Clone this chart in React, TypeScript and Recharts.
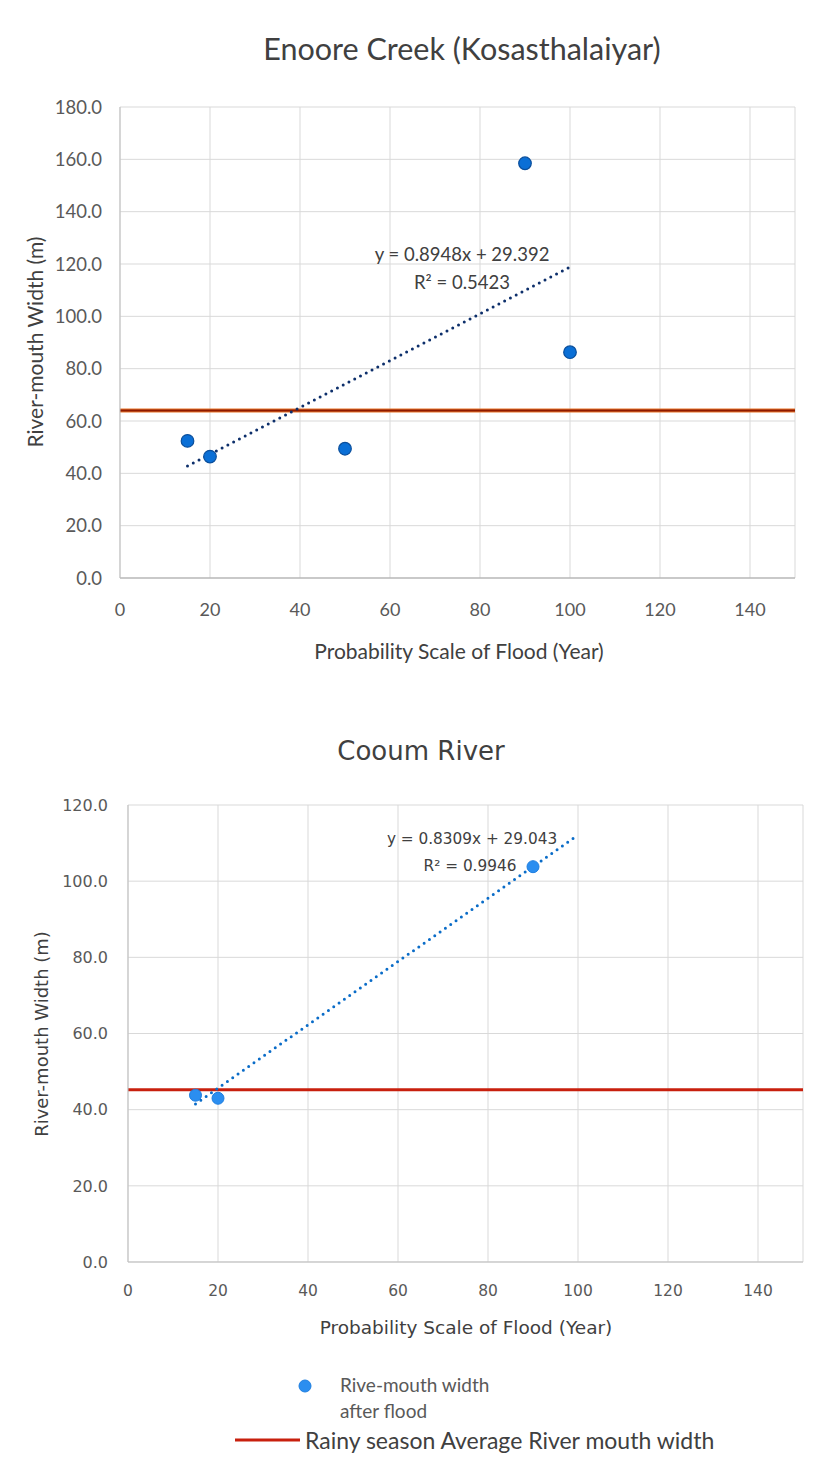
import React from "react";
import { CartesianGrid, ComposedChart, ReferenceLine, Scatter, XAxis, YAxis } from "recharts";

const X_TICKS = [0, 20, 40, 60, 80, 100, 120, 140];

// Enoore Creek (Kosasthalaiyar)
const enooreYears = [15, 20, 50, 90, 100];
const enooreWidths = [52.4, 46.4, 49.4, 158.5, 86.3];
const enooreRainyAvg = 64;
const enooreFit = { slope: 0.8948, intercept: 29.392, from: 15, to: 100 };
const enooreYTicks = [0, 20, 40, 60, 80, 100, 120, 140, 160, 180];

// Cooum River
const cooumYears = [15, 20, 90];
const cooumWidths = [43.8, 43.0, 103.8];
const cooumRainyAvg = 45.2;
const cooumFit = { slope: 0.8309, intercept: 29.043, from: 15, to: 100 };
const cooumYTicks = [0, 20, 40, 60, 80, 100, 120];

const W = 823;
const H = 1463;

type Fit = { slope: number; intercept: number; from: number; to: number };

const toPoints = (xs: number[], ys: number[]) => xs.map((x, i) => ({ x, y: ys[i] }));
const fitLine = (f: Fit) => [f.from, f.to].map((x) => ({ x, y: f.slope * x + f.intercept }));

function Caption({
  x,
  y,
  children,
  size,
  font,
  color = "#404040",
  rotate = false,
}: {
  x: number;
  y: number;
  children: React.ReactNode;
  size: number;
  font: string;
  color?: string;
  rotate?: boolean;
}) {
  return (
    <div
      style={{
        position: "absolute",
        left: x,
        top: y,
        transform: `translate(-50%, -50%)${rotate ? " rotate(-90deg)" : ""}`,
        fontFamily: font,
        fontSize: size,
        color,
        whiteSpace: "nowrap",
        lineHeight: 1.15,
        textAlign: "center",
      }}
    >
      {children}
    </div>
  );
}

const LATO = "Lato, sans-serif";
const DEJAVU = "'DejaVu Sans', sans-serif";

export default function App() {
  const enooreData = toPoints(enooreYears, enooreWidths);
  const cooumData = toPoints(cooumYears, cooumWidths);

  return (
    <div style={{ position: "absolute", left: 0, top: 0, width: W, height: H, background: "#fff", overflow: "hidden" }}>
      {/* top chart */}
      <div style={{ position: "absolute", left: 0, top: 0 }}>
        <ComposedChart width={W} height={700} margin={{ top: 107, right: 28, bottom: 0, left: 0 }}>
          <CartesianGrid stroke="#d9d9d9" />
          <XAxis
            type="number"
            dataKey="x"
            domain={[0, 150]}
            ticks={X_TICKS}
            height={122}
            tickSize={0}
            tickMargin={25}
            axisLine={{ stroke: "#a6a6a6" }}
            tick={{ fill: "#595959", fontSize: 18, fontFamily: LATO }}
            allowDataOverflow
          />
          <YAxis
            type="number"
            dataKey="y"
            domain={[0, 180]}
            ticks={enooreYTicks}
            width={120}
            tickSize={0}
            tickMargin={18}
            axisLine={{ stroke: "#bfbfbf" }}
            tick={{ fill: "#595959", fontSize: 18.5, fontFamily: LATO }}
            tickFormatter={(v: number) => v.toFixed(1)}
          />
          <ReferenceLine y={enooreRainyAvg} stroke="#e8742a" strokeWidth={4} />
          <ReferenceLine y={enooreRainyAvg} stroke="#8e1a00" strokeWidth={2} />
          <Scatter
            data={fitLine(enooreFit)}
            line={{ stroke: "#0d2f6b", strokeWidth: 3, strokeDasharray: "0 6.5", strokeLinecap: "round" }}
            shape={() => <g />}
            isAnimationActive={false}
          />
          <Scatter
            data={enooreData}
            shape={(p: any) => <circle cx={p.cx} cy={p.cy} r={6.3} fill="#0a6fd6" stroke="#0b4f9c" strokeWidth={1.2} />}
            isAnimationActive={false}
          />
        </ComposedChart>
      </div>

      {/* bottom chart */}
      <div style={{ position: "absolute", left: 0, top: 700 }}>
        <ComposedChart width={W} height={640} margin={{ top: 105, right: 20, bottom: 0, left: 0 }}>
          <CartesianGrid stroke="#d9d9d9" />
          <XAxis
            type="number"
            dataKey="x"
            domain={[0, 150]}
            ticks={X_TICKS}
            height={78}
            tickSize={0}
            tickMargin={23}
            axisLine={{ stroke: "#bfbfbf" }}
            tick={{ fill: "#595959", fontSize: 15.5, fontFamily: DEJAVU }}
            allowDataOverflow
          />
          <YAxis
            type="number"
            dataKey="y"
            domain={[0, 120]}
            ticks={cooumYTicks}
            width={128}
            tickSize={0}
            tickMargin={20}
            axisLine={{ stroke: "#bfbfbf" }}
            tick={{ fill: "#595959", fontSize: 16, fontFamily: DEJAVU }}
            tickFormatter={(v: number) => v.toFixed(1)}
          />
          <ReferenceLine y={cooumRainyAvg} stroke="#c8200e" strokeWidth={3} />
          <Scatter
            data={fitLine(cooumFit)}
            line={{ stroke: "#0a6cc8", strokeWidth: 3, strokeDasharray: "0 6.5", strokeLinecap: "round" }}
            shape={() => <g />}
            isAnimationActive={false}
          />
          <Scatter
            data={cooumData}
            shape={(p: any) => <circle cx={p.cx} cy={p.cy} r={6} fill="#2b8ef0" stroke="#1f7fe0" strokeWidth={1} />}
            isAnimationActive={false}
          />
        </ComposedChart>
      </div>

      {/* captions, top chart */}
      <Caption x={462} y={49} size={30.5} font={LATO}>Enoore Creek (Kosasthalaiyar)</Caption>
      <Caption x={459} y={651} size={21} font={LATO}>Probability Scale of Flood (Year)</Caption>
      <Caption x={35} y={342} size={21} font={LATO} rotate>River-mouth Width (m)</Caption>
      <Caption x={462} y={255} size={18.5} font={LATO}>y = 0.8948x + 29.392</Caption>
      <Caption x={462} y={283} size={18.5} font={LATO}>R² = 0.5423</Caption>

      {/* captions, bottom chart */}
      <Caption x={421} y={752} size={26} font={DEJAVU}>Cooum River</Caption>
      <Caption x={466} y={1328} size={18.5} font={DEJAVU}>Probability Scale of Flood (Year)</Caption>
      <Caption x={42} y={1034} size={18} font={DEJAVU} rotate>River-mouth Width (m)</Caption>
      <Caption x={472} y={840} size={15.3} font={DEJAVU}>y = 0.8309x + 29.043</Caption>
      <Caption x={470} y={867} size={15.3} font={DEJAVU}>R² = 0.9946</Caption>

      {/* legend */}
      <svg style={{ position: "absolute", left: 0, top: 0 }} width={W} height={H}>
        <circle cx={305} cy={1386} r={6} fill="#2b8ef0" stroke="#1f7fe0" />
        <line x1={235} x2={300} y1={1440} y2={1440} stroke="#c8200e" strokeWidth={3} />
      </svg>
      <div style={{ position: "absolute", left: 340, top: 1372, fontFamily: LATO, fontSize: 19, color: "#595959", lineHeight: "26px" }}>
        Rive-mouth width
        <br />
        after flood
      </div>
      <div style={{ position: "absolute", left: 305, top: 1426, fontFamily: LATO, fontSize: 23, color: "#404040", whiteSpace: "nowrap" }}>
        Rainy season Average River mouth width
      </div>
    </div>
  );
}
